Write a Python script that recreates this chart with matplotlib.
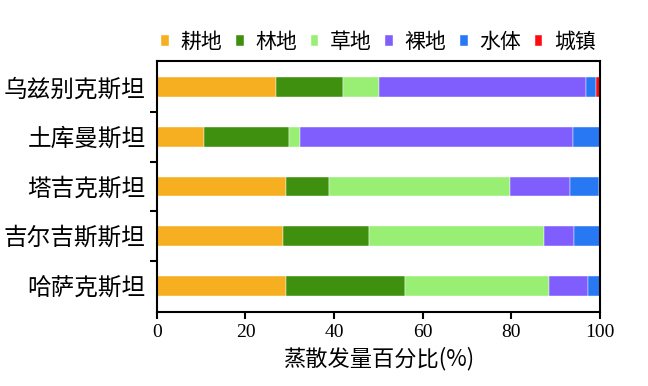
import numpy as np
import matplotlib
matplotlib.use('Agg')
import matplotlib.pyplot as plt

plt.rcParams['font.family'] = ['Noto Sans CJK SC', 'DejaVu Sans']

countries = ['乌兹别克斯坦', '土库曼斯坦', '塔吉克斯坦', '吉尔吉斯斯坦', '哈萨克斯坦']
classes = ['耕地', '林地', '草地', '裸地', '水体', '城镇']
colors = ['#F6AF20', '#409010', '#98EF74', '#805EFE', '#2878F4', '#FF0A10']

# percent of evapotranspiration by land class, one list per class
cropland = [26.8, 10.6, 29.1, 28.4, 29.1]
forest = [15.2, 19.2, 9.7, 19.5, 27.0]
grass = [8.2, 2.5, 40.9, 39.5, 32.4]
bare = [46.6, 61.7, 13.5, 6.7, 8.7]
water = [2.3, 5.9, 6.6, 5.8, 2.7]
urban = [0.9, 0.1, 0.2, 0.1, 0.1]
series = [cropland, forest, grass, bare, water, urban]

fig = plt.figure(figsize=(6.48, 3.86), dpi=100)
ax = fig.add_axes([0.242, 0.192, 0.684, 0.650])

ypos = np.arange(len(countries))[::-1]
left = np.zeros(len(countries))
for vals, name, c in zip(series, classes, colors):
    ax.barh(ypos, vals, height=0.4, left=left, color=c, label=name,
            edgecolor='white', linewidth=0.3)
    left += np.array(vals)

ax.set_xlim(0, 100)
ax.set_ylim(-0.53, 4.53)
ax.set_xticks([0, 20, 40, 60, 80, 100])
ax.set_xticklabels(['0', '20', '40', '60', '80', '100'],
                   family='Liberation Serif', fontsize=14)
ax.set_yticks(ypos)
ax.set_yticklabels(countries, fontsize=17)
ax.set_yticks([0.5, 1.5, 2.5, 3.5], minor=True)
ax.tick_params(axis='y', which='major', length=0, pad=8)
ax.tick_params(axis='y', which='minor', length=5, width=1.5, direction='out')
ax.tick_params(axis='x', length=5, width=1.5, direction='out', pad=4)
for s in ax.spines.values():
    s.set_linewidth(1.5)

ax.set_xlabel('蒸散发量百分比(%)', fontsize=16, labelpad=4)

leg = ax.legend(ncol=6, loc='lower center', bbox_to_anchor=(0.5, 0.99),
                frameon=False, fontsize=15, handlelength=0.38,
                handleheight=0.38, handletextpad=0.55, columnspacing=0.65,
                borderaxespad=0.1)

plt.savefig('out.png', dpi=100)
